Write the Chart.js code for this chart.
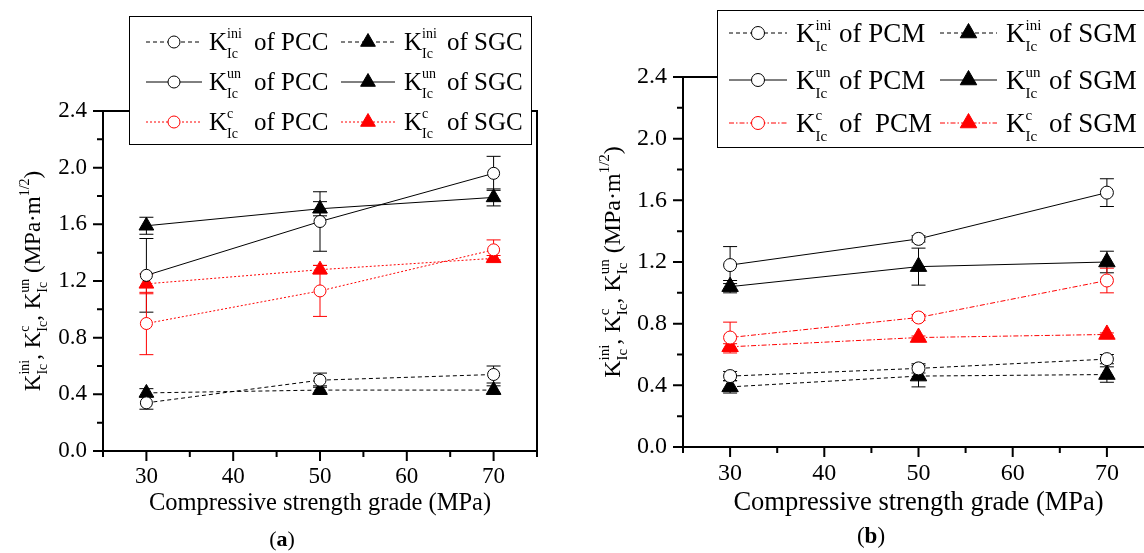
<!DOCTYPE html>
<html>
<head>
<meta charset="utf-8">
<script src="https://cdn.jsdelivr.net/npm/chart.js@4.4.0/dist/chart.umd.min.js"></script>
<style>
  html, body { margin: 0; padding: 0; background: #fff; overflow: hidden; }
  #wrap { position: relative; width: 1144px; height: 553px; overflow: hidden; background: #fff; }
  canvas { position: absolute; top: 0; }
  #chartA { left: 0; }
  #chartB { left: 580px; }
</style>
</head>
<body>
<div id="wrap">
  <canvas id="chartA" width="580" height="553"></canvas>
  <canvas id="chartB" width="600" height="553"></canvas>
</div>
<script>
const FONT = '"Liberation Serif", "Times New Roman", serif';
const BLACK = '#000000';
const RED = '#ff0000';

const grades = [30, 50, 70];

// (a) concrete: PCC and SGC
const pccIni = [0.34, 0.50, 0.54];
const pccIniErr = [0.045, 0.05, 0.06];
const sgcIni = [0.41, 0.43, 0.43];
const sgcIniErr = [0.03, 0.03, 0.03];
const pccUn = [1.24, 1.62, 1.96];
const pccUnErr = [0.26, 0.21, 0.12];
const sgcUn = [1.59, 1.71, 1.79];
const sgcUnErr = [0.06, 0.05, 0.06];
const pccC = [0.90, 1.13, 1.42];
const pccCErr = [0.22, 0.18, 0.07];
const sgcC = [1.18, 1.28, 1.36];
const sgcCErr = [0.07, 0.03, 0.02];

// (b) mortar: PCM and SGM
const pcmIni = [0.46, 0.51, 0.57];
const pcmIniErr = [0.03, 0.03, 0.03];
const sgmIni = [0.39, 0.46, 0.47];
const sgmIniErr = [0.04, 0.07, 0.05];
const pcmUn = [1.18, 1.35, 1.65];
const pcmUnErr = [0.12, 0.02, 0.09];
const sgmUn = [1.04, 1.17, 1.20];
const sgmUnErr = [0.04, 0.12, 0.07];
const pcmC = [0.71, 0.84, 1.08];
const pcmCErr = [0.10, 0.02, 0.08];
const sgmC = [0.65, 0.71, 0.73];
const sgmCErr = [0.02, 0.01, 0.01];

const xTitle = 'Compressive strength grade (MPa)';
const legendA = [['ini', 'of PCC'], ['ini', 'of SGC'], ['un', 'of PCC'], ['un', 'of SGC'], ['c', 'of PCC'], ['c', 'of SGC']];
const legendB = [['ini', 'of PCM'], ['ini', 'of SGM'], ['un', 'of PCM'], ['un', 'of SGM'], ['c', 'of  PCM'], ['c', 'of SGM']];
const yTitle = [['K', 'ini', 'Ic'], [', '], ['K', 'c', 'Ic'], [', '], ['K', 'un', 'Ic'], [' (MPa\u00b7m', '1/2'], [')']];

function series(vals, errs, color, style, dash, r) {
  return {
    data: grades.map((g, i) => ({ x: g, y: vals[i] })),
    errors: errs,
    borderColor: color,
    borderWidth: 1,
    borderDash: dash,
    pointStyle: style,
    pointRadius: r,
    pointBorderWidth: 1,
    pointBorderColor: color,
    pointBackgroundColor: style === 'circle' ? '#ffffff' : color,
    tension: 0,
    fill: false
  };
}

// text with stacked superscript / subscript after the main glyphs
function richWidth(ctx, parts, fs, ss) {
  let w = 0;
  parts.forEach(p => {
    ctx.font = fs + 'px ' + FONT;
    w += ctx.measureText(p[0]).width;
    ctx.font = ss + 'px ' + FONT;
    let adv = 0;
    if (p[1]) adv = ctx.measureText(p[1]).width;
    if (p[2]) adv = Math.max(adv, ctx.measureText(p[2]).width);
    w += adv;
  });
  return w;
}

function drawRich(ctx, x, y, parts, fs, ss, up, down) {
  parts.forEach(p => {
    ctx.font = fs + 'px ' + FONT;
    ctx.fillText(p[0], x, y);
    x += ctx.measureText(p[0]).width;
    ctx.font = ss + 'px ' + FONT;
    let adv = 0;
    if (p[1]) { ctx.fillText(p[1], x, y - up); adv = ctx.measureText(p[1]).width; }
    if (p[2]) { ctx.fillText(p[2], x, y + down); adv = Math.max(adv, ctx.measureText(p[2]).width); }
    x += adv;
  });
  return x;
}

function drawMarker(ctx, style, x, y, r, color) {
  ctx.save();
  ctx.setLineDash([]);
  ctx.lineWidth = 1;
  ctx.strokeStyle = color;
  ctx.beginPath();
  if (style === 'circle') {
    ctx.arc(x, y, r, 0, Math.PI * 2);
    ctx.fillStyle = '#ffffff';
  } else {
    for (let k = 0; k < 3; k++) {
      const a = k * 2 * Math.PI / 3;
      const px = x + Math.sin(a) * r, py = y - Math.cos(a) * r;
      if (k === 0) ctx.moveTo(px, py); else ctx.lineTo(px, py);
    }
    ctx.closePath();
    ctx.fillStyle = color;
  }
  ctx.fill();
  ctx.stroke();
  ctx.restore();
}

function decor(cfg) {
  return {
    id: 'decor',
    beforeDatasetsDraw(chart) {
      const { ctx, chartArea: a, scales: { x, y } } = chart;
      ctx.save();
      ctx.strokeStyle = BLACK;
      ctx.lineWidth = 2;
      ctx.strokeRect(a.left, a.top, a.right - a.left, a.bottom - a.top);
      // outward tick marks, long where a label is shown
      ctx.beginPath();
      x.ticks.forEach(t => {
        const px = x.getPixelForValue(t.value);
        const len = t.label ? 10 : 6;
        ctx.moveTo(px, a.bottom);
        ctx.lineTo(px, a.bottom + len);
      });
      y.ticks.forEach(t => {
        const py = y.getPixelForValue(t.value);
        const len = t.label ? 10 : 6;
        ctx.moveTo(a.left, py);
        ctx.lineTo(a.left - len, py);
      });
      ctx.stroke();

      // error bars
      ctx.lineWidth = 1;
      chart.data.datasets.forEach(ds => {
        ctx.strokeStyle = ds.borderColor;
        ctx.beginPath();
        ds.data.forEach((p, i) => {
          const e = ds.errors[i];
          const px = x.getPixelForValue(p.x);
          const top = y.getPixelForValue(p.y + e);
          const bot = y.getPixelForValue(p.y - e);
          ctx.moveTo(px, top); ctx.lineTo(px, bot);
          ctx.moveTo(px - cfg.cap, top); ctx.lineTo(px + cfg.cap, top);
          ctx.moveTo(px - cfg.cap, bot); ctx.lineTo(px + cfg.cap, bot);
        });
        ctx.stroke();
      });
      ctx.restore();
    },
    afterDraw(chart) {
      const { ctx, chartArea: a } = chart;
      const L = cfg.legend;
      ctx.save();
      ctx.fillStyle = '#ffffff';
      ctx.fillRect(L.box[0], L.box[1], L.box[2] - L.box[0], L.box[3] - L.box[1]);
      ctx.strokeStyle = BLACK;
      ctx.lineWidth = 1;
      ctx.strokeRect(L.box[0] + 0.5, L.box[1] + 0.5, L.box[2] - L.box[0], L.box[3] - L.box[1]);

      chart.data.datasets.forEach((ds, i) => {
        const row = Math.floor(i / 2), col = i % 2;
        const cy = L.rows[row];
        const c = L.cols[col];
        ctx.save();
        ctx.strokeStyle = ds.borderColor;
        ctx.lineWidth = 1;
        ctx.setLineDash(ds.borderDash || []);
        ctx.beginPath();
        ctx.moveTo(c.from, cy);
        ctx.lineTo(c.to, cy);
        ctx.stroke();
        ctx.restore();
        drawMarker(ctx, ds.pointStyle, (c.from + c.to) / 2, cy, ds.pointRadius, ds.borderColor);

        const lab = cfg.labels[i];
        ctx.fillStyle = BLACK;
        ctx.textBaseline = 'alphabetic';
        ctx.textAlign = 'left';
        drawRich(ctx, c.k, cy + L.base, [['K', lab[0], 'Ic']], L.fs, L.ss, L.up, L.down);
        ctx.font = L.fs + 'px ' + FONT;
        ctx.fillText(lab[1], c.of, cy + L.base);
      });

      // rotated y title
      const T = cfg.yTitle;
      ctx.save();
      ctx.translate(T.x, (a.top + a.bottom) / 2);
      ctx.rotate(-Math.PI / 2);
      ctx.fillStyle = BLACK;
      ctx.textBaseline = 'alphabetic';
      ctx.textAlign = 'left';
      const w = richWidth(ctx, yTitle, T.fs, T.ss);
      drawRich(ctx, -w / 2, 0, yTitle, T.fs, T.ss, T.up, T.down);
      ctx.restore();

      // panel letter
      const P = cfg.panel;
      ctx.fillStyle = BLACK;
      ctx.textBaseline = 'middle';
      ctx.textAlign = 'left';
      ctx.font = P.fs + 'px ' + FONT;
      const wp = ctx.measureText('(').width, wc = ctx.measureText(')').width;
      ctx.font = 'bold ' + P.fs + 'px ' + FONT;
      const wl = ctx.measureText(P.letter).width;
      let px = P.x - (wp + wl + wc) / 2;
      ctx.font = P.fs + 'px ' + FONT;
      ctx.fillText('(', px, P.y);
      ctx.font = 'bold ' + P.fs + 'px ' + FONT;
      ctx.fillText(P.letter, px + wp, P.y);
      ctx.font = P.fs + 'px ' + FONT;
      ctx.fillText(')', px + wp + wl, P.y);
      ctx.restore();
    }
  };
}

function makeChart(id, datasets, cfg) {
  return new Chart(document.getElementById(id), {
    type: 'line',
    data: { datasets: datasets },
    options: {
      responsive: false,
      animation: false,
      events: [],
      layout: { padding: { left: 0, right: cfg.padRight, top: cfg.top, bottom: 0 } },
      plugins: { legend: { display: false }, tooltip: { enabled: false } },
      scales: {
        x: {
          type: 'linear',
          min: 25,
          max: 75,
          afterFit: s => { s.height = cfg.xHeight; },
          grid: { display: false, drawTicks: false },
          border: { display: false },
          ticks: {
            stepSize: 5,
            autoSkip: false,
            maxRotation: 0,
            padding: cfg.xPad,
            color: BLACK,
            font: { family: FONT, size: cfg.tickFs },
            callback: v => (v % 10 === 0 && v >= 30 && v <= 70) ? String(v) : ''
          },
          title: {
            display: true,
            text: xTitle,
            color: BLACK,
            font: { family: FONT, size: cfg.titleFs },
            padding: { top: 0, bottom: cfg.titlePad }
          }
        },
        y: {
          min: 0,
          max: 2.4,
          afterFit: s => { s.width = cfg.yWidth; },
          grid: { display: false, drawTicks: false },
          border: { display: false },
          ticks: {
            stepSize: 0.2,
            autoSkip: false,
            padding: cfg.yPad,
            color: BLACK,
            font: { family: FONT, size: cfg.tickFs },
            callback: v => {
              const k = Math.round(v * 10);
              return k % 4 === 0 ? (k / 10).toFixed(1) : '';
            }
          }
        }
      }
    },
    plugins: [decor(cfg)]
  });
}

const dashIni = [4, 3];
const dotA = [2, 2];
const dashDotB = [5, 2, 1.5, 2];

makeChart('chartA', [
  series(pccIni, pccIniErr, BLACK, 'circle', dashIni, 6),
  series(sgcIni, sgcIniErr, BLACK, 'triangle', dashIni, 8.5),
  series(pccUn, pccUnErr, BLACK, 'circle', [], 6),
  series(sgcUn, sgcUnErr, BLACK, 'triangle', [], 8.5),
  series(pccC, pccCErr, RED, 'circle', dotA, 6),
  series(sgcC, sgcCErr, RED, 'triangle', dotA, 8.5)
], {
  top: 111, padRight: 43, xHeight: 102, yWidth: 103,
  xPad: 12, yPad: 16, tickFs: 23, titleFs: 24.5, titlePad: 35, cap: 7,
  labels: legendA,
  legend: {
    box: [129, 16, 531, 144], rows: [42, 82, 122], base: 8,
    cols: [{ from: 146, to: 202, k: 209, of: 254 }, { from: 341, to: 395, k: 404, of: 447 }],
    fs: 25, ss: 14, up: 12, down: 8
  },
  yTitle: { x: 40, fs: 23, ss: 14, up: 11, down: 7 },
  panel: { letter: 'a', x: 282, y: 540, fs: 22 }
});

makeChart('chartB', [
  series(pcmIni, pcmIniErr, BLACK, 'circle', dashIni, 6.5),
  series(sgmIni, sgmIniErr, BLACK, 'triangle', dashIni, 9.5),
  series(pcmUn, pcmUnErr, BLACK, 'circle', [], 6.5),
  series(sgmUn, sgmUnErr, BLACK, 'triangle', [], 9.5),
  series(pcmC, pcmCErr, RED, 'circle', dashDotB, 6.5),
  series(sgmC, sgmCErr, RED, 'triangle', dashDotB, 9.5)
], {
  top: 77, padRight: 26, xHeight: 106, yWidth: 103,
  xPad: 12, yPad: 16, tickFs: 24, titleFs: 26.5, titlePad: 34, cap: 7,
  labels: legendB,
  legend: {
    box: [137, 10, 640, 147], rows: [33, 80, 123], base: 9,
    cols: [{ from: 149, to: 207, k: 216, of: 259 }, { from: 360, to: 417, k: 426, of: 469 }],
    fs: 27, ss: 15, up: 12, down: 9
  },
  yTitle: { x: 40, fs: 24, ss: 15, up: 11, down: 7 },
  panel: { letter: 'b', x: 291, y: 537, fs: 23 }
});
</script>
</body>
</html>
